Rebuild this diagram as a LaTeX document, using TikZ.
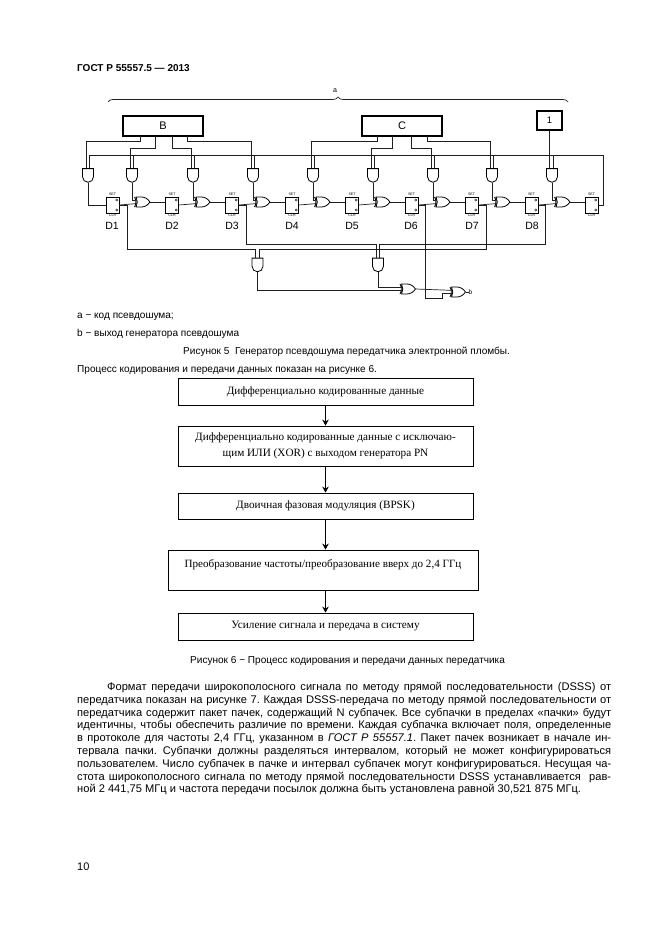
\documentclass[tikz,border=0pt]{standalone}
\usepackage{fontspec}
\setmainfont{Liberation Sans}
\newfontfamily\boxfont{Liberation Serif}
\usetikzlibrary{shapes.gates.logic.US,decorations.pathreplacing,arrows.meta}
\definecolor{wirecol}{gray}{0.12}
\newcommand{\bodyline}[2][534pt]{\makebox[#1][s]{#2}\\}
\frenchspacing

\begin{document}
\begin{tikzpicture}[x=1pt,y=-1pt]

%
% Styles
%
\tikzstyle{wire}    = [draw=wirecol,line width=0.7pt]
\tikzstyle{regbox}  = [draw,line width=1.1pt,minimum width=80pt,minimum height=20pt,inner sep=0pt,font=\fontsize{11}{12}\selectfont]
\tikzstyle{andg}    = [and gate US,draw,logic gate inputs=nn,logic gate input sep=4pt,rotate=-90,scale=0.65,inner sep=0pt,line width=0.8pt]
\tikzstyle{xorg}    = [xor gate US,draw,logic gate inputs=nn,logic gate input sep=5pt,scale=0.6,inner sep=0pt,line width=0.8pt]
\tikzstyle{ff}      = [draw,line width=0.9pt,minimum width=13pt,minimum height=16pt,inner sep=0pt,
  label={[font=\fontsize{3.6}{4}\selectfont,inner sep=0.6pt]above:SET},
  label={[font=\fontsize{3.6}{4}\selectfont,inner sep=0.6pt]below:CLR},
  path picture={
    \draw[line width=0.4pt] ([xshift=-2.2pt,yshift=-3pt]path picture bounding box.north east) circle (1.1pt);
    \draw[line width=0.4pt] ([xshift=-2.2pt,yshift=3pt]path picture bounding box.south east) circle (1.1pt);
  }]
\tikzstyle{fflabel} = [inner sep=0pt,font=\fontsize{10.5}{12}\selectfont]
\tikzstyle{flowbox} = [draw,line width=0.8pt,minimum width=295pt,inner sep=0pt,align=center,font=\boxfont\fontsize{11.2}{16.5}\selectfont]
\tikzstyle{flow}    = [->,>={Stealth[length=6pt,width=6.5pt]},line width=0.8pt]
\tikzstyle{plain}   = [anchor=base west,inner sep=0pt,font=\fontsize{10.05}{12}\selectfont]

\useasboundingbox (0,0) rectangle (661,936);

% page text
\node[plain,font=\bfseries\fontsize{10}{12}\selectfont] (head) at (77,72) {ГОСТ Р 55557.5 — 2013};
\node[plain] (noteA) at (77,318) {а − код псевдошума;};
\node[plain] (noteB) at (77,336) {b − выход генератора псевдошума};
\node[plain] (capF)  at (183,354) {Рисунок 5\ \ Генератор псевдошума передатчика электронной пломбы.};
\node[plain] (intro) at (77,372) {Процесс кодирования и передачи данных показан на рисунке 6.};
\node[plain] (capS)  at (190,663) {Рисунок 6 − Процесс кодирования и передачи данных передатчика};
\node[plain,font=\fontsize{11}{13}\selectfont] (pageno) at (77,870) {10};
\node[anchor=north west,inner sep=0pt,align=left,font=\fontsize{11.1}{12.8}\selectfont] (body) at (77,682) {%
\hspace*{30pt}\bodyline[504pt]{Формат передачи широкополосного сигнала по методу прямой последовательности (DSSS) от}
\bodyline{передатчика показан на рисунке 7. Каждая DSSS-передача по методу прямой последовательности от}
\bodyline{передатчика содержит пакет пачек, содержащий N субпачек. Все субпачки в пределах «пачки» будут}
\bodyline{идентичны, чтобы обеспечить различие по времени. Каждая субпачка включает поля, определенные}
\bodyline{в протоколе для частоты 2,4 ГГц, указанном в \textit{ГОСТ Р 55557.1}. Пакет пачек возникает в начале ин-}
\bodyline{тервала пачки. Субпачки должны разделяться интервалом, который не может конфигурироваться}
\bodyline{пользователем. Число субпачек в пачке и интервал субпачек могут конфигурироваться. Несущая ча-}
\bodyline{стота широкополосного сигнала по методу прямой последовательности DSSS устанавливается\ \ рав-}
ной 2 441,75 МГц и частота передачи посылок должна быть установлена равной 30,521 875 МГц.};

% generator
\coordinate (braceL) at (108,102);
\coordinate (braceR) at (568,102);
\draw[wire,decorate,decoration={brace,amplitude=5pt}] (braceL) -- (braceR);
\node[inner sep=0pt,font=\fontsize{7}{8}\selectfont] (codeA) at (335,91) {а};

\node[regbox] (regB) at (163,126) {В};
\node[regbox] (regC) at (402,126) {С};
\node[regbox,minimum width=25pt,minimum height=19pt,font=\fontsize{9.5}{10}\selectfont] (regO) at (549.5,120.5) {1};

\node[andg] (and1) at (88,175)  {};
\node[andg] (and2) at (132,175) {};
\node[andg] (and3) at (193,175) {};
\node[andg] (and4) at (253,175) {};
\node[andg] (and5) at (313,175) {};
\node[andg] (and6) at (373,175) {};
\node[andg] (and7) at (433,175) {};
\node[andg] (and8) at (492,175) {};
\node[andg] (and9) at (552,175) {};

\node[ff] (ff1) at (112.5,205) {};
\node[ff] (ff2) at (172,205)   {};
\node[ff] (ff3) at (232,205)   {};
\node[ff] (ff4) at (292,205)   {};
\node[ff] (ff5) at (352,205)   {};
\node[ff] (ff6) at (411.5,205) {};
\node[ff] (ff7) at (471.5,205) {};
\node[ff] (ff8) at (531.5,205) {};
\node[ff] (ff9) at (591.5,205) {};

\node[fflabel] (d1) at (112,226) {D1};
\node[fflabel] (d2) at (172,226) {D2};
\node[fflabel] (d3) at (232,226) {D3};
\node[fflabel] (d4) at (292,226) {D4};
\node[fflabel] (d5) at (352,226) {D5};
\node[fflabel] (d6) at (411,226) {D6};
\node[fflabel] (d7) at (472,226) {D7};
\node[fflabel] (d8) at (532,226) {D8};

\node[xorg] (or2) at (142,202) {};
\node[xorg] (or3) at (202,202) {};
\node[xorg] (or4) at (262,202) {};
\node[xorg] (or5) at (322,202) {};
\node[xorg] (or6) at (382,202) {};
\node[xorg] (or7) at (442,202) {};
\node[xorg] (or8) at (502,202) {};
\node[xorg] (or9) at (562,202) {};

\node[andg] (andL) at (257.5,264.5) {};
\node[andg] (andR) at (378,264.5)   {};
\node[xorg] (orOut) at (407.5,289)  {};
\node[xorg] (xorOut) at (457.5,292) {};
\node[inner sep=0pt,font=\fontsize{6.5}{8}\selectfont] (outB) at (470.5,292) {b};

% register outputs to the gates above
\coordinate (pb1) at (140.7,136);
\coordinate (pb2) at (155.7,136);
\coordinate (pb3) at (172.7,136);
\coordinate (pb4) at (187.7,136);
\coordinate (pc1) at (377,136);
\coordinate (pc2) at (392.7,136);
\coordinate (pc3) at (411,136);
\coordinate (pc4) at (427,136);

\draw[wire] (pb1) -- ++(0,5) -| (and1.input 2);
\draw[wire] (pb2) -- ++(0,12) -| (and2.input 2);
\draw[wire] (pb3) -- ++(0,12) -| (and3.input 2);
\draw[wire] (pb4) -- ++(0,5) -| (and4.input 2);
\draw[wire] (pc1) -- ++(0,5) -| (and5.input 2);
\draw[wire] (pc2) -- ++(0,12) -| (and6.input 2);
\draw[wire] (pc3) -- ++(0,12) -| (and7.input 2);
\draw[wire] (pc4) -- ++(0,5) -| (and8.input 2);
\draw[wire] (regO.south) -- (regO.south |- and9.input 2);

% feedback bus
\coordinate (busR) at (603,155);
\draw[wire] (and1.input 1) |- (busR) |- (ff9.east);
\draw[wire] (and2.input 1) -- (and2.input 1 |- busR);
\draw[wire] (and3.input 1) -- (and3.input 1 |- busR);
\draw[wire] (and4.input 1) -- (and4.input 1 |- busR);
\draw[wire] (and5.input 1) -- (and5.input 1 |- busR);
\draw[wire] (and6.input 1) -- (and6.input 1 |- busR);
\draw[wire] (and7.input 1) -- (and7.input 1 |- busR);
\draw[wire] (and8.input 1) -- (and8.input 1 |- busR);
\draw[wire] (and9.input 1) -- (and9.input 1 |- busR);

% shift chain
\draw[wire] (and1.output) |- (ff1.west);
\draw[wire] (and2.output) |- (or2.input 1);
\draw[wire] (and3.output) |- (or3.input 1);
\draw[wire] (and4.output) |- (or4.input 1);
\draw[wire] (and5.output) |- (or5.input 1);
\draw[wire] (and6.output) |- (or6.input 1);
\draw[wire] (and7.output) |- (or7.input 1);
\draw[wire] (and8.output) |- (or8.input 1);
\draw[wire] (and9.output) |- (or9.input 1);

\draw[wire] (ff1.east) -- (or2.input 2);
\draw[wire] (ff2.east) -- (or3.input 2);
\draw[wire] (ff3.east) -- (or4.input 2);
\draw[wire] (ff4.east) -- (or5.input 2);
\draw[wire] (ff5.east) -- (or6.input 2);
\draw[wire] (ff6.east) -- (or7.input 2);
\draw[wire] (ff7.east) -- (or8.input 2);
\draw[wire] (ff8.east) -- (or9.input 2);

\draw[wire] (or2.output) -- (or2.output -| ff2.west);
\draw[wire] (or3.output) -- (or3.output -| ff3.west);
\draw[wire] (or4.output) -- (or4.output -| ff4.west);
\draw[wire] (or5.output) -- (or5.output -| ff5.west);
\draw[wire] (or6.output) -- (or6.output -| ff6.west);
\draw[wire] (or7.output) -- (or7.output -| ff7.west);
\draw[wire] (or8.output) -- (or8.output -| ff8.west);
\draw[wire] (or9.output) -- (or9.output -| ff9.west);

% taps to the output gates
\coordinate (tap1) at (127,249);
\coordinate (tap3) at (246,244);
\coordinate (tap6) at (425.7,298);
\coordinate (tap7) at (486,249);
\coordinate (tap8) at (545.7,244);
\coordinate (jog6) at (442,298);

\draw[wire] (ff1.east) -| (tap1) -| (andL.input 2);
\draw[wire] (ff7.east) -| (tap7) -| (andL.input 1);
\draw[wire] (ff3.east) -| (tap3) -| (andR.input 2);
\draw[wire] (ff8.east) -| (tap8) -| (andR.input 1);
\draw[wire] (ff6.east) -| (tap6) -- (jog6) |- (xorOut.input 2);

\draw[wire] (andL.output) |- (orOut.input 2);
\draw[wire] (andR.output) |- (orOut.input 1);
\draw[wire] (orOut.output) -- (xorOut.input 1);
\draw[wire] (xorOut.output) -- (outB);

% coding process
\node[flowbox,minimum height=27pt] (step1) at (325.5,391.5) {\raisebox{1.5pt}{Дифференциально кодированные данные}};
\node[flowbox,minimum height=40pt] (step2) at (325.5,446) {Дифференциально кодированные данные с исключаю-\\щим ИЛИ (XOR) с выходом генератора PN};
\node[flowbox,minimum height=26pt] (step3) at (325.5,506) {\raisebox{3pt}{Двоичная фазовая модуляция (BPSK)}};
\node[flowbox,minimum width=310pt,minimum height=40pt,font=\boxfont\fontsize{11.1}{15}\selectfont] (step4) at (323,570) {\raisebox{12pt}{Преобразование частоты/преобразование вверх до 2,4 ГГц}};
\node[flowbox,minimum height=27pt] (step5) at (325.5,626.5) {\raisebox{2pt}{Усиление сигнала и передача в систему}};

\draw[flow] (step1) -- (step2);
\draw[flow] (step2) -- (step3);
\draw[flow] (step3) -- (step3 |- step4.north);
\draw[flow] (step5 |- step4.south) -- (step5);

\end{tikzpicture}
\end{document}
